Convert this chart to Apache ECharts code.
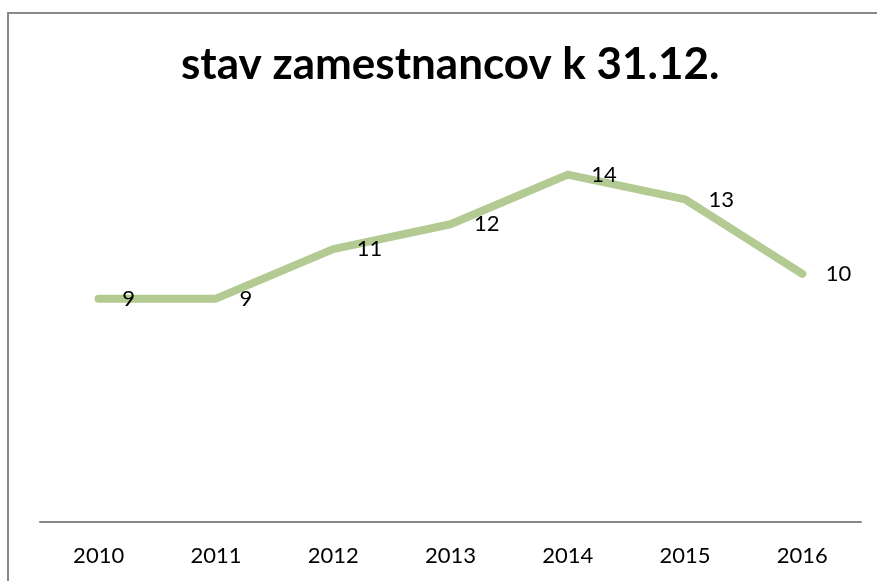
<!DOCTYPE html>
<html>
<head>
<meta charset="utf-8">
<script src="https://cdn.jsdelivr.net/npm/echarts@6/dist/echarts.min.js"></script>
<style>
html,body{margin:0;padding:0;background:#fff;}
#wrap{position:relative;width:877px;height:581px;overflow:hidden;background:#fff;}
#frame{position:absolute;left:7px;top:12px;width:900px;height:600px;border:2px solid #888888;box-sizing:border-box;}
#chart{position:absolute;left:0;top:0;width:877px;height:581px;}
</style>
</head>
<body>
<div id="wrap">
<div id="frame"></div>
<div id="chart"></div>
</div>
<script>
var titleText = 'stav zamestnancov k 31.12.';
var categories = ['2010','2011','2012','2013','2014','2015','2016'];
var values = [9, 9, 11, 12, 14, 13, 10];

var chart = echarts.init(document.getElementById('chart'), null, {renderer:'canvas'});
chart.setOption({
  backgroundColor: 'transparent',
  animation: false,
  title: {
    text: titleText,
    left: 176,
    top: 38,
    textStyle: {fontFamily: 'Lato', fontWeight: 'bold', fontSize: 44, color: '#000'}
  },
  grid: {left: 40, right: 16, top: 125, bottom: 59},
  xAxis: {
    type: 'category',
    data: categories,
    boundaryGap: true,
    axisLine: {lineStyle: {color: '#878787', width: 2}},
    axisTick: {show: false},
    axisLabel: {fontFamily: 'Lato', fontSize: 22, color: '#000', margin: 23}
  },
  yAxis: {
    type: 'value',
    min: 0, max: 16, interval: 2,
    show: false,
    splitLine: {show: false}
  },
  series: [{
    type: 'line',
    data: values,
    symbol: 'circle',
    symbolSize: 1,
    showSymbol: true,
    itemStyle: {color: '#b3ca92'},
    lineStyle: {color: '#b3ca92', width: 8, cap: 'round', join: 'round'},
    label: {
      show: true,
      position: 'right',
      distance: 23,
      fontFamily: 'Lato',
      fontSize: 22,
      color: '#000'
    }
  }]
});
</script>
</body>
</html>
